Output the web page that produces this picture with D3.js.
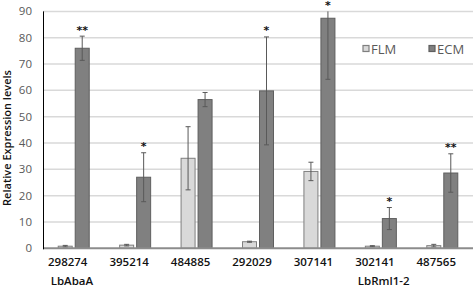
<!DOCTYPE html>
<html><head><meta charset="utf-8">
<script src="https://cdn.jsdelivr.net/npm/d3@7"></script>
<style>html,body{margin:0;padding:0;background:#fff;}svg{display:block;}</style>
</head><body>
<script>
const categories = ["298274","395214","484885","292029","307141","302141","487565"];
const series = ["FLM","ECM"];
const flmValues = [0.8, 1.2, 34.2, 2.5, 29.2, 0.8, 1.0];
const flmErrors = [0.3, 0.3, 12.0, 0.2, 3.5, 0.2, 0.5];
const ecmValues = [76.0, 27.0, 56.5, 59.8, 87.4, 11.3, 28.6];
const ecmErrors = [4.6, 9.3, 2.7, 20.5, 23.2, 4.2, 7.3];
const significance = ["**","*","","*","*","*","**"];
const yTicks = [0,10,20,30,40,50,60,70,80,90];
const groupLabels = [{text:"LbAbaA", at:"298274"},{text:"LbRml1-2", at:"302141"}];

const W = 473, H = 286;
const svg = d3.select("body").append("svg").attr("width", W).attr("height", H);

const x = d3.scaleBand().domain(categories).range([43, 473]).paddingInner(0);
const xSub = d3.scaleBand().domain(series).range([-15.5, 15.5]).paddingInner(3/17);
const y = d3.scaleLinear().domain([0, 90]).range([248.3, 11.4]);

const fills = {FLM:"#d9d9d9", ECM:"#808080"};
const strokes = {FLM:"#7f7f7f", ECM:"#5f5f5f"};

// gridlines
svg.append("g").selectAll("line").data(yTicks.filter(t=>t>0)).join("line")
  .attr("x1", 43).attr("x2", 473)
  .attr("y1", d=>y(d)).attr("y2", d=>y(d))
  .attr("stroke", "#d9d9d9").attr("stroke-width", 1.5);

// y tick labels
svg.append("g").selectAll("text").data(yTicks).join("text")
  .attr("x", 32).attr("y", d=>y(d)+4)
  .attr("text-anchor","end")
  .attr("font-family","'Open Sans', sans-serif").attr("font-size", 11.5)
  .attr("fill","#595959").text(d=>d);

const data = [];
categories.forEach((c,i)=>{
  data.push({c, s:"FLM", v:flmValues[i], e:flmErrors[i]});
  data.push({c, s:"ECM", v:ecmValues[i], e:ecmErrors[i]});
});

// bars
svg.append("g").selectAll("rect").data(data).join("rect")
  .attr("x", d=>x(d.c)+x.bandwidth()/2+xSub(d.s))
  .attr("width", xSub.bandwidth())
  .attr("y", d=>y(d.v))
  .attr("height", d=>y(0)-y(d.v))
  .attr("fill", d=>fills[d.s])
  .attr("stroke", d=>strokes[d.s]).attr("stroke-width", 1);

// error bars
const eg = svg.append("g").attr("stroke","#595959").attr("stroke-width",1);
data.forEach(d=>{
  const cx = x(d.c)+x.bandwidth()/2+xSub(d.s)+xSub.bandwidth()/2;
  const hiV = d.v+d.e, loV = Math.max(0, d.v-d.e);
  const clipped = hiV > 90;
  const hi = y(Math.min(90, hiV)), lo = y(loV);
  eg.append("line").attr("x1",cx).attr("x2",cx).attr("y1",hi).attr("y2",lo);
  if(!clipped) eg.append("line").attr("x1",cx-2.5).attr("x2",cx+2.5).attr("y1",hi).attr("y2",hi);
  eg.append("line").attr("x1",cx-2.5).attr("x2",cx+2.5).attr("y1",lo).attr("y2",lo);
});

// significance stars
categories.forEach((c,i)=>{
  if(!significance[i]) return;
  const cx = x(c)+x.bandwidth()/2+xSub("ECM")+xSub.bandwidth()/2;
  const top = y(Math.min(90, ecmValues[i]+ecmErrors[i]));
  svg.append("text").attr("x",cx).attr("y",top-2.5)
    .attr("text-anchor","middle")
    .attr("font-family","'DejaVu Sans', sans-serif").attr("font-weight","bold")
    .attr("font-size",11).attr("fill","#111").text(significance[i]);
});

// x baseline
svg.append("line").attr("x1",43).attr("x2",473).attr("y1",y(0)).attr("y2",y(0))
  .attr("stroke","#8c8c8c").attr("stroke-width",2);
// y axis line
svg.append("line").attr("x1",43.5).attr("x2",43.5).attr("y1",y(90)).attr("y2",y(0)+1)
  .attr("stroke","#000").attr("stroke-width",1);

// x labels
svg.append("g").selectAll("text").data(categories).join("text")
  .attr("x", d=>x(d)+x.bandwidth()/2-6).attr("y", 266)
  .attr("text-anchor","middle")
  .attr("font-family","'Open Sans', sans-serif").attr("font-weight",600)
  .attr("font-size",11.5).attr("fill","#111").text(d=>d);

// group labels
svg.append("g").selectAll("text").data(groupLabels).join("text")
  .attr("x", d=>x(d.at)+x.bandwidth()/2-23).attr("y", 284.5)
  .attr("font-family","'Open Sans', sans-serif").attr("font-weight",600)
  .attr("font-size",11.5).attr("fill","#111").text(d=>d.text);

// y title
svg.append("text").attr("transform","translate(11,138) rotate(-90)")
  .attr("text-anchor","middle")
  .attr("font-family","'Open Sans', sans-serif").attr("font-weight",600)
  .attr("font-size",11).attr("fill","#111").text("Relative Expression levels");

// legend
const legX = [363, 429];
series.forEach((s,i)=>{
  svg.append("rect").attr("x",legX[i]).attr("y",45.5).attr("width",6).attr("height",6)
    .attr("fill",fills[s]).attr("stroke",strokes[s]).attr("stroke-width",1.2);
  svg.append("text").attr("x",legX[i]+8).attr("y",54)
    .attr("font-family","'Open Sans', sans-serif").attr("font-size",13)
    .attr("fill","#595959").text(s);
});
</script>
</body></html>
